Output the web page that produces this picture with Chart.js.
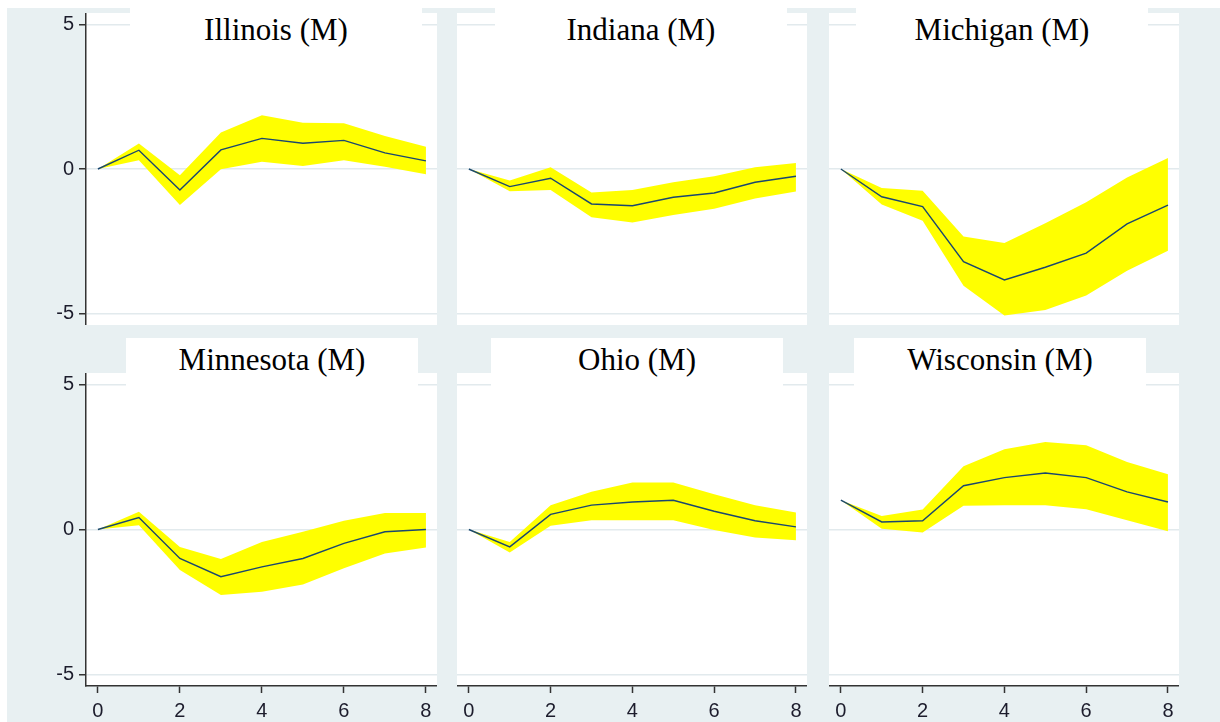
<!DOCTYPE html>
<html>
<head>
<meta charset="utf-8">
<title>Impulse responses (M)</title>
<script src="https://cdn.jsdelivr.net/npm/chart.js"></script>
<style>
  body { margin: 0; background: #fff; }
  #wrap { position: relative; width: 1220px; height: 722px; overflow: hidden; }
  #bg { position: absolute; left: 7px; top: 8px; width: 1213px; height: 714px; background: #e8f0f2; }
  canvas { position: absolute; }
  .ttl {
    position: absolute; height: 48px; padding-top: 6px; box-sizing: border-box;
    background: #fff; text-align: center; white-space: nowrap; color: #000;
    font-family: "Liberation Serif", "Times New Roman", serif; font-size: 31px; line-height: 31px;
  }
</style>
</head>
<body>
<div id="wrap"><div id="bg"></div></div>
<script>
var steps = [0, 1, 2, 3, 4, 5, 6, 7, 8];
var xTicks = [0, 2, 4, 6, 8];
var yTicks = [-5, 0, 5];
var titles = ["Illinois (M)", "Indiana (M)", "Michigan (M)", "Minnesota (M)", "Ohio (M)", "Wisconsin (M)"];

var illinoisEst = [0, 0.65, -0.73, 0.66, 1.06, 0.89, 0.99, 0.56, 0.28];
var illinoisLo = [0, 0.30, -1.25, -0.01, 0.25, 0.10, 0.30, 0.08, -0.18];
var illinoisHi = [0, 0.88, -0.22, 1.26, 1.86, 1.60, 1.58, 1.14, 0.77];

var indianaEst = [0, -0.61, -0.32, -1.21, -1.27, -0.98, -0.83, -0.46, -0.25];
var indianaLo = [0, -0.77, -0.73, -1.67, -1.85, -1.59, -1.38, -1.02, -0.78];
var indianaHi = [0, -0.40, 0.06, -0.81, -0.73, -0.46, -0.25, 0.06, 0.21];

var michiganEst = [0, -0.96, -1.30, -3.21, -3.84, -3.40, -2.91, -1.90, -1.25];
var michiganLo = [0, -1.23, -1.79, -4.04, -5.07, -4.88, -4.38, -3.52, -2.83];
var michiganHi = [0, -0.66, -0.75, -2.34, -2.56, -1.88, -1.15, -0.29, 0.38];

var minnesotaEst = [0, 0.41, -1.00, -1.63, -1.29, -1.00, -0.48, -0.08, 0];
var minnesotaLo = [0, 0.15, -1.40, -2.26, -2.15, -1.90, -1.34, -0.83, -0.62];
var minnesotaHi = [0, 0.61, -0.60, -1.02, -0.43, -0.08, 0.30, 0.57, 0.57];

var ohioEst = [0, -0.60, 0.52, 0.84, 0.95, 1.01, 0.63, 0.30, 0.09];
var ohioLo = [0, -0.79, 0.13, 0.32, 0.32, 0.32, -0.02, -0.28, -0.37];
var ohioHi = [0, -0.43, 0.84, 1.30, 1.62, 1.62, 1.22, 0.84, 0.59];

var wisconsinEst = [1.01, 0.26, 0.30, 1.51, 1.79, 1.95, 1.79, 1.30, 0.95];
var wisconsinLo = [1.01, 0.03, -0.10, 0.82, 0.84, 0.84, 0.70, 0.32, -0.06];
var wisconsinHi = [1.01, 0.47, 0.69, 2.18, 2.77, 3.02, 2.91, 2.33, 1.91];

var series = [
  [illinoisEst, illinoisLo, illinoisHi],
  [indianaEst, indianaLo, indianaHi],
  [michiganEst, michiganLo, michiganHi],
  [minnesotaEst, minnesotaLo, minnesotaHi],
  [ohioEst, ohioLo, ohioHi],
  [wisconsinEst, wisconsinLo, wisconsinHi]
];

// layout of the 3x2 grid (pixels)
var colLeft = [7, 457, 829], colWidth = [430, 350, 350];
var rowTop = [13, 373], rowHeight = [312, 349];
var titleLeft = [[130, 495, 856], [126, 491, 854]];
var titleTop = [8, 338];
var titleWidth = 292;

var wrap = document.getElementById("wrap");

// white plot region like the Stata panels
var plotBg = {
  id: "plotBg",
  beforeDraw: function (chart) {
    var a = chart.chartArea, c = chart.ctx;
    c.save();
    c.fillStyle = "#fff";
    c.fillRect(a.left, a.top, a.right - a.left, a.bottom - a.top);
    c.restore();
  }
};

function toXY(vals) {
  return steps.map(function (s, i) { return { x: s, y: vals[i] }; });
}

function makePanel(i) {
  var row = Math.floor(i / 3), col = i % 3;
  var cv = document.createElement("canvas");
  cv.width = colWidth[col];
  cv.height = rowHeight[row];
  cv.style.left = colLeft[col] + "px";
  cv.style.top = rowTop[row] + "px";
  wrap.appendChild(cv);

  var tickFont = { family: "Liberation Sans, Arial, sans-serif", size: 20 };

  new Chart(cv, {
    type: "line",
    data: {
      datasets: [
        { data: toXY(series[i][0]), borderColor: "#1a476f", borderWidth: 1.4, pointRadius: 0, fill: false, tension: 0 },
        { data: toXY(series[i][1]), borderColor: "rgba(0,0,0,0)", borderWidth: 0, pointRadius: 0, fill: false },
        { data: toXY(series[i][2]), borderColor: "rgba(0,0,0,0)", borderWidth: 0, pointRadius: 0, fill: "-1", backgroundColor: "#ffff00" }
      ]
    },
    options: {
      responsive: false,
      animation: false,
      devicePixelRatio: 1,
      layout: { padding: 0 },
      events: [],
      plugins: {
        legend: { display: false },
        tooltip: { enabled: false },
        filler: { drawTime: "beforeDatasetsDraw" }
      },
      scales: {
        x: {
          type: "linear",
          min: -0.29,
          max: 8.27,
          display: row == 1,
          afterBuildTicks: function (s) { s.ticks = xTicks.map(function (v) { return { value: v }; }); },
          afterFit: function (s) { s.height = row == 1 ? 36 : 0; s.paddingLeft = 0; s.paddingRight = 0; },
          grid: { display: true, drawOnChartArea: false, drawTicks: true, tickLength: 7, tickColor: "#333", tickWidth: 1.5 },
          border: { display: true, color: "#333", width: 1.5 },
          ticks: { padding: 6, color: "#1c1c2c", font: tickFont, maxRotation: 0 }
        },
        y: {
          type: "linear",
          min: -5.4,
          max: 5.4,
          afterBuildTicks: function (s) { s.ticks = yTicks.map(function (v) { return { value: v }; }); },
          afterFit: function (s) { s.width = col == 0 ? 79 : 0; s.paddingTop = 0; s.paddingBottom = 0; },
          grid: { color: "#e2eaed", lineWidth: 1.5, drawTicks: col == 0, tickLength: 7, tickColor: "#333", tickWidth: 1.5 },
          border: { display: col == 0, color: "#333", width: 1.5 },
          ticks: { display: col == 0, padding: 5, color: "#1c1c2c", font: tickFont }
        }
      }
    },
    plugins: [plotBg]
  });

  var t = document.createElement("div");
  t.className = "ttl";
  t.style.left = titleLeft[row][col] + "px";
  t.style.top = titleTop[row] + "px";
  t.style.width = titleWidth + "px";
  t.textContent = titles[i];
  wrap.appendChild(t);
}

for (var i = 0; i < 6; i++) makePanel(i);
</script>
</body>
</html>
